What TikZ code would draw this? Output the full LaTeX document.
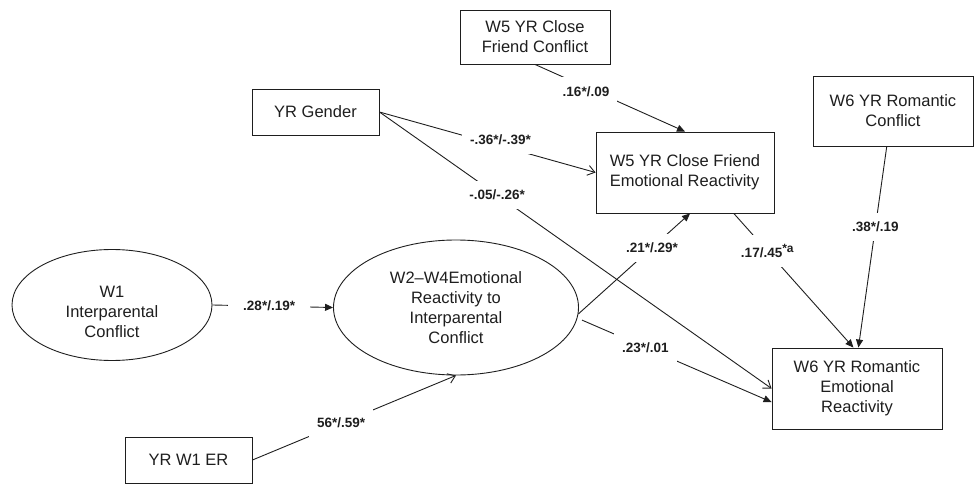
\documentclass[tikz,border=0pt]{standalone}
\usepackage{fontspec}
\setmainfont{Liberation Sans}
\usetikzlibrary{arrows.meta,shapes.geometric}
\definecolor{ink}{HTML}{1E1E1E}
\tikzset{
  nodefont/.style={font=\fontsize{16.5}{20}\selectfont, text=ink},
  box/.style={draw=ink, line width=0.9pt, rectangle, inner sep=0pt, align=center, nodefont},
  latent/.style={draw=ink, line width=0.9pt, ellipse, inner sep=0pt, align=center, nodefont},
  link/.style={draw=ink, line width=0.9pt},
  fwd/.style={link, -{Triangle[length=8pt,width=7pt]}},
  barb/.style={link, -{Straight Barb[length=7pt,width=10pt]}},
  coef/.style={fill=white, inner xsep=8pt, inner ysep=9pt,
    font=\fontsize{13.5}{16}\selectfont\bfseries, text=ink},
}
\begin{document}
\begin{tikzpicture}[x=1pt,y=-1pt]
\useasboundingbox (0,0) rectangle (975,484);

% observed variables
\node[box, minimum width=150pt, minimum height=54pt] (cfc) at (535,37) {W5 YR Close\\Friend Conflict};
\node[box, minimum width=127pt, minimum height=46pt] (gender) at (315.5,112) {YR Gender};
\node[box, minimum width=178pt, minimum height=81pt, align=left] (cfer) at (685,172.5) {W5 YR Close Friend\\Emotional Reactivity};
\node[box, minimum width=160pt, minimum height=70pt] (rc) at (893,111) {W6 YR Romantic\\Conflict};
\node[box, minimum width=170pt, minimum height=81pt] (rer) at (857,388.5) {W6 YR Romantic\\Emotional\\Reactivity};
\node[box, minimum width=127pt, minimum height=46pt] (er) at (188.5,460) {YR W1 ER};

% latent variables
\node[latent, minimum width=200pt, minimum height=111pt] (w1) at (112,305) {};
\node[nodefont, align=center] (w1txt) at (112,312) {W1\\Interparental\\Conflict};
\node[latent, minimum width=245pt, minimum height=135pt] (w24) at (456,307.5) {W2--W4Emotional\\Reactivity to\\Interparental\\Conflict};

% paths with coefficients
\draw[fwd] (cfc.south) -- node[coef, pos=0.34, yshift=-4pt] (c1) {.16*/.09} (cfer.north);
\draw[barb] (gender.east) -- node[coef, pos=0.56, yshift=6pt] (c2) {-.36*/-.39*} (cfer.west);
\draw[barb] (gender.east) -- node[coef, pos=0.3] (c3) {-.05/-.26*} (rer.west);
\draw[fwd] (w1.east) -- node[coef, pos=0.47, inner xsep=15pt] (c4) {.28*/.19*} (w24.west);
\draw[barb] (er.east) -- node[coef, pos=0.436] (c5) {56*/.59*} (w24.south);
\draw[fwd] (w24.-3) -- node[coef, pos=0.66] (c6) {.21*/.29*} (cfer.-83);
\draw[fwd, shorten <=5pt] (w24.-5.7) -- node[coef, pos=0.35] (c7) {.23*/.01} (rer.189);
\draw[fwd] (cfer.-40.7) -- node[coef, pos=0.28] (c8) {.17/.45\raisebox{5pt}{\fontsize{12}{12}\selectfont\bfseries *a}} (rer.95.6);
\draw[fwd] (rc.260.3) -- node[coef, pos=0.4] (c9) {.38*/.19} (rer.88.6);
\end{tikzpicture}
\end{document}
